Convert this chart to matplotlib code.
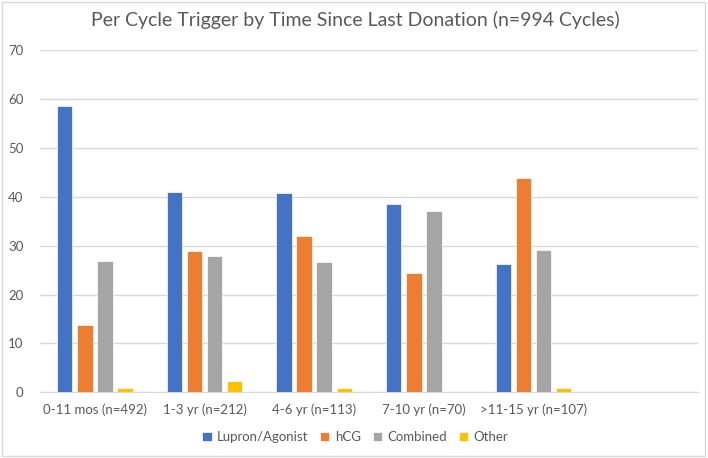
import matplotlib
matplotlib.use("Agg")
import matplotlib.pyplot as plt
from matplotlib.patches import Rectangle
import numpy as np

plt.rcParams['font.family'] = ['Lato', 'DejaVu Sans']

categories = ["0-11 mos (n=492)", "1-3 yr (n=212)", "4-6 yr (n=113)", "7-10 yr (n=70)", ">11-15 yr (n=107)", ""]
series_names = ["Lupron/Agonist", "hCG", "Combined", "Other"]
lupron = [58.5, 41.0, 40.7, 38.6, 26.2, 0]
hcg = [13.8, 28.8, 31.9, 24.3, 43.9, 0]
combined = [26.8, 27.9, 26.6, 37.1, 29.0, 0]
other = [0.8, 2.3, 0.9, 0.0, 0.9, 0]
colors = ["#4472C4", "#ED7D31", "#A5A5A5", "#FFC000"]

W, H = 708, 458
fig = plt.figure(figsize=(W/100, H/100), dpi=100)
fig.patches.append(Rectangle((2/W, 2/H), 703/W, 454/H, transform=fig.transFigure,
                             fill=False, edgecolor="#D9D9D9", linewidth=1.0))

ax = fig.add_axes([40/W, (H-392.3)/H, 658/W, 342.3/H])
n = len(categories)
x = np.arange(n)
bw = 0.14
step = 0.1825
offsets = (np.arange(4) - 1.5) * step
for vals, c, name, off in zip([lupron, hcg, combined, other], colors, series_names, offsets):
    ax.bar(x + off, vals, width=bw, color=c, label=name, zorder=3, edgecolor="white", linewidth=0.5)

ax.set_xlim(-0.5, n - 0.5)
ax.set_ylim(0, 70)
ax.set_yticks(range(0, 71, 10))
ax.set_xticks(x)
ax.set_xticklabels(categories)
ax.grid(axis='y', color="#D9D9D9", linewidth=1.0, zorder=0)
for s in ['top', 'right', 'left']:
    ax.spines[s].set_visible(False)
ax.spines['bottom'].set_color("#D9D9D9")
ax.tick_params(axis='both', length=0, colors="#595959", labelsize=9.5)
ax.tick_params(axis='y', pad=12)
ax.tick_params(axis='x', pad=8)

fig.text(355/W, 1 - 20/H, "Per Cycle Trigger by Time Since Last Donation (n=994 Cycles)",
         ha='center', va='center', fontsize=14, color="#595959")

leg = fig.legend(loc='center', bbox_to_anchor=(355/W, 1 - 437/H), ncol=4, frameon=False,
                 fontsize=9.5, handlelength=0.7, handleheight=0.7, handletextpad=0.4,
                 columnspacing=0.9, labelcolor="#595959")

fig.savefig("out.png", dpi=100)
